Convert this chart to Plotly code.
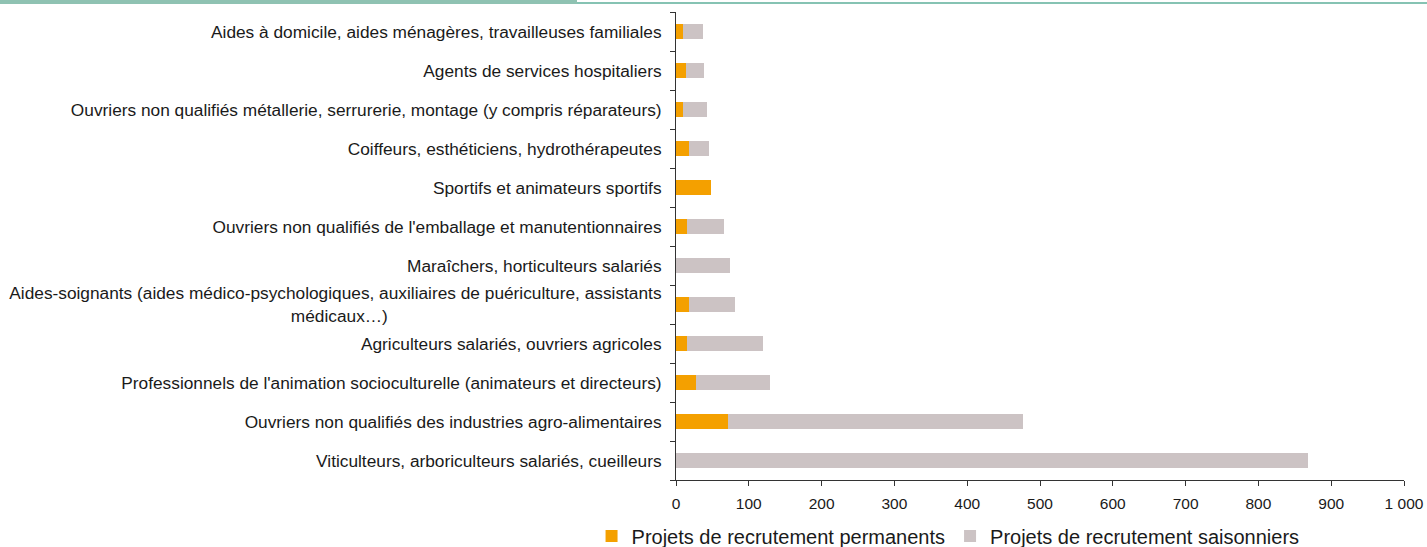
import plotly.graph_objects as go

categories = [
    "Viticulteurs, arboriculteurs salariés, cueilleurs",
    "Ouvriers non qualifiés des industries agro-alimentaires",
    "Professionnels de l'animation socioculturelle (animateurs et directeurs)",
    "Agriculteurs salariés, ouvriers agricoles",
    "Aides-soignants (aides médico-psychologiques, auxiliaires de puériculture, assistants<br>médicaux…)" + "\u00a0" * 57,
    "Maraîchers, horticulteurs salariés",
    "Ouvriers non qualifiés de l'emballage et manutentionnaires",
    "Sportifs et animateurs sportifs",
    "Coiffeurs, esthéticiens, hydrothérapeutes",
    "Ouvriers non qualifiés métallerie, serrurerie, montage (y compris réparateurs)",
    "Agents de services hospitaliers",
    "Aides à domicile, aides ménagères, travailleuses familiales",
]
permanents = [0, 71, 27, 15, 18, 0, 15, 48, 18, 10, 14, 10]
saisonniers = [868, 406, 102, 105, 63, 74, 51, 0, 27, 33, 24, 27]

x_ticks = [0, 100, 200, 300, 400, 500, 600, 700, 800, 900, 1000]

ORANGE = "#f4a000"
GREY = "#ccc3c4"
FONT = "Liberation Sans, Arial, sans-serif"

fig = go.Figure()
fig.add_trace(go.Bar(y=categories, x=permanents, orientation="h",
                     name="Projets de recrutement permanents",
                     marker=dict(color=ORANGE, line=dict(width=0))))
fig.add_trace(go.Bar(y=categories, x=saisonniers, orientation="h",
                     name="Projets de recrutement saisonniers",
                     marker=dict(color=GREY, line=dict(width=0))))

fig.update_layout(
    barmode="stack",
    bargap=0.6,
    width=1427, height=547,
    margin=dict(l=676, r=23, t=12, b=67, autoexpand=False),
    paper_bgcolor="white", plot_bgcolor="white",
    separators=", ",
    font=dict(family=FONT, size=17.3, color="#1a1a1a"),
    showlegend=True,
    legend=dict(orientation="h", x=-0.116, xanchor="left", y=-0.078, yanchor="top",
                traceorder="normal",
                font=dict(size=20, family=FONT, color="#1a1a1a"),
                itemwidth=30, tracegroupgap=0, bgcolor="rgba(0,0,0,0)"),
    xaxis=dict(range=[0, 1000], tickvals=x_ticks, tickformat=",d", automargin=False,
               showline=True, linecolor="#333333", linewidth=1,
               ticks="outside", ticklen=5, tickcolor="#333333",
               showgrid=False, zeroline=False, ticklabelstandoff=4,
               tickfont=dict(size=15.5, family=FONT, color="#1a1a1a")),
    yaxis=dict(type="category", categoryorder="array", categoryarray=categories, automargin=False,
               showline=True, linecolor="#333333", linewidth=1,
               ticks="outside", ticklen=5, tickcolor="#333333", tickson="boundaries",
               showgrid=False, zeroline=False, ticklabelstandoff=10,
               tickfont=dict(size=17.3, family=FONT, color="#1a1a1a")),
    shapes=[
        dict(type="rect", xref="paper", yref="paper",
             x0=-0.93, x1=-0.136, y0=1.0171, y1=1.03,
             fillcolor="#8fc2b2", line=dict(width=0), layer="above"),
        dict(type="rect", xref="paper", yref="paper",
             x0=-0.136, x1=1.04, y0=1.0171, y1=1.0214,
             fillcolor="#86c3b3", line=dict(width=0), layer="above"),
    ],
)

fig.write_html("out.html")
